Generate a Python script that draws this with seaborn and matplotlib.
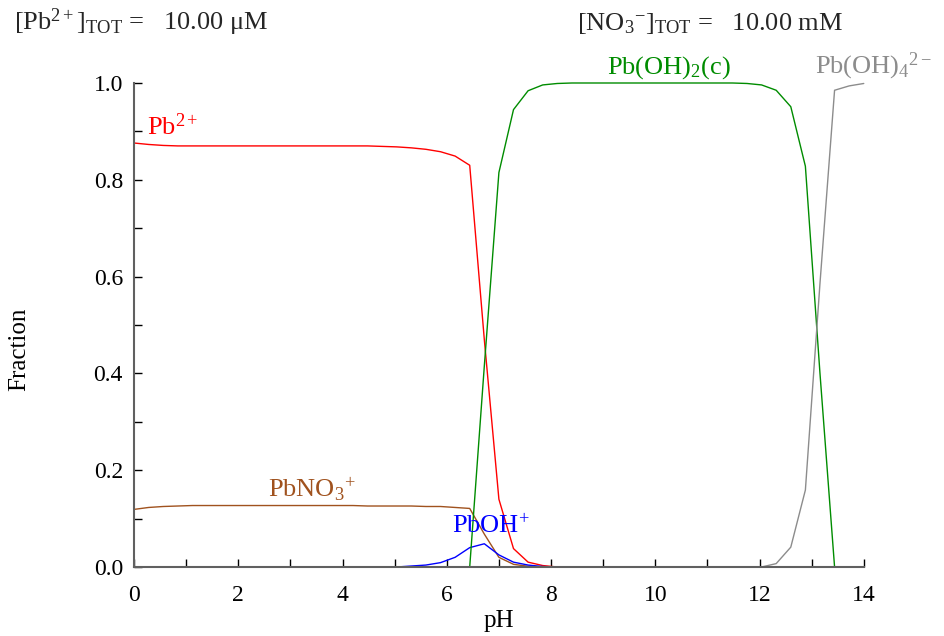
import numpy as np
import pandas as pd
import seaborn as sns
import matplotlib
matplotlib.use("Agg")
import matplotlib.pyplot as plt

nan = np.nan

# pH grid of the calculation (51 points, 0 to 14)
ph = np.linspace(0, 14, 51)

# fractions, one value per pH point
pb2 = [0.876, 0.873, 0.871] + [0.870] * 14 + [
    0.869, 0.868, 0.866, 0.863, 0.858, 0.849, 0.830, 0.470, 0.140,
    0.038, 0.010, 0.003, 0.0] + [nan] * 21
pbno3 = [0.119, 0.123, 0.125, 0.126] + [0.127] * 12 + [
    0.126, 0.126, 0.126, 0.126, 0.125, 0.125, 0.123,
    0.121, 0.068, 0.020, 0.0055, 0.0015, 0.0] + [nan] * 22
pboh = [nan] * 18 + [
    0.0, 0.002, 0.004, 0.009, 0.020, 0.040, 0.048, 0.025, 0.010,
    0.004, 0.001, 0.0] + [nan] * 21
pboh2_c = [nan] * 23 + [
    0.0, 0.415, 0.815, 0.945, 0.984, 0.996, 0.999] + [1.0] * 12 + [
    0.999, 0.996, 0.985, 0.951, 0.828, 0.400, 0.0] + [nan] * 2
pboh4 = [nan] * 43 + [0.0, 0.007, 0.041, 0.159, 0.586, 0.985, 0.994, 0.999]

species = ["Pb2+", "PbNO3+", "PbOH+", "Pb(OH)2(c)", "Pb(OH)4 2-"]
labels = [r"Pb$^{2+}$", r"PbNO$_3$$^{+}$", r"PbOH$^{+}$",
          r"Pb(OH)$_2$(c)", r"Pb(OH)$_4$$^{2-}$"]
colors = ["#ff0000", "#a0521e", "#0000ff", "#008c00", "#8c8c8c"]

sns.set_theme(style="ticks")
plt.rcParams["font.family"] = ["Liberation Serif", "DejaVu Serif"]
plt.rcParams["mathtext.fontset"] = "custom"
plt.rcParams["mathtext.rm"] = "Liberation Serif"
plt.rcParams["mathtext.it"] = "Liberation Serif:italic"
plt.rcParams["mathtext.bf"] = "Liberation Serif:bold"

df = pd.DataFrame({"pH": ph, "Pb2+": pb2, "PbNO3+": pbno3, "PbOH+": pboh,
                   "Pb(OH)2(c)": pboh2_c, "Pb(OH)4 2-": pboh4})
long = df.melt(id_vars="pH", var_name="species", value_name="fraction")

fig = plt.figure(figsize=(9.44, 6.36), dpi=100)
ax = fig.add_axes([0.142, 0.1085, 0.773, 0.761])

sns.lineplot(data=long, x="pH", y="fraction", hue="species",
             hue_order=species, palette=dict(zip(species, colors)),
             estimator=None, sort=False, legend=False, linewidth=1.0, ax=ax)
for ln in ax.lines:
    ln.set_clip_on(False)

ax.set_xlim(0, 14)
ax.set_ylim(0, 1.0)
ax.set_xticks(np.arange(0, 15, 1))
ax.set_xticklabels([str(v) if v % 2 == 0 else "" for v in range(15)])
ax.set_yticks(np.round(np.arange(0, 1.01, 0.1), 1))
ax.set_yticklabels([f"{v:.1f}" if i % 2 == 0 else "" for i, v in
                    enumerate(np.arange(0, 1.01, 0.1))])
ax.tick_params(direction="in", length=5.5, width=1, color="black",
               labelsize=17, labelcolor="black")
ax.tick_params(axis="x", pad=13)
ax.tick_params(axis="y", pad=8)
sns.despine(ax=ax)
for s in ["left", "bottom"]:
    ax.spines[s].set_color("#606060")
    ax.spines[s].set_linewidth(1.5)

ax.set_xlabel("pH", fontsize=18, color="black")
ax.set_ylabel("Fraction", fontsize=18, color="black")
ax.xaxis.set_label_coords(0.5, -0.088)
ax.yaxis.set_label_coords(-0.142, 0.45)

# species labels
label_pos = [(0.25, 0.893), (2.57, 0.145), (6.10, 0.070),
             (9.07, 1.019), (13.06, 1.019)]
for lab, (x, y), c in zip(labels, label_pos, colors):
    ax.text(x, y, lab, color=c, fontsize=19, ha="left", va="baseline",
            clip_on=False)

fig.text(0.015, 0.953, r"[Pb$^{2+}$]$_{\mathrm{TOT}}$ =   10.00 μM",
         fontsize=19, ha="left", va="baseline")
fig.text(0.611, 0.953, r"[NO$_3$$^{-}$]$_{\mathrm{TOT}}$ =   10.00 mM",
         fontsize=19, ha="left", va="baseline")

fig.savefig("out.png", dpi=100)
